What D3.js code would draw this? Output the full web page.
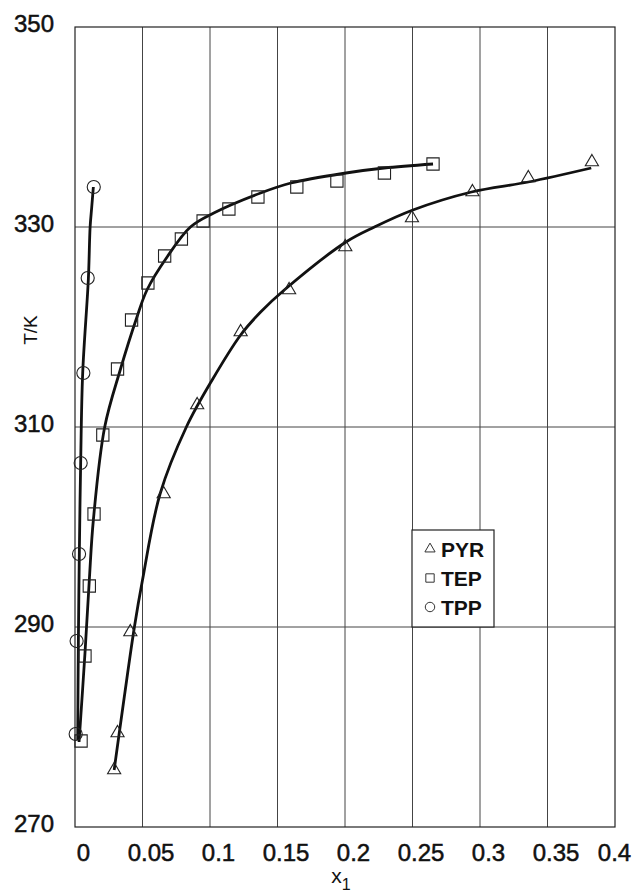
<!DOCTYPE html>
<html>
<head>
<meta charset="utf-8">
<script src="https://cdn.jsdelivr.net/npm/d3@7"></script>
<style>
  body { margin: 0; background: #fff; }
  text { font-family: "Liberation Sans", Arial, sans-serif; fill: #111; }
</style>
</head>
<body>
<div class="chart"></div>
<script>
// tick values
var xTicks = [0, 0.05, 0.1, 0.15, 0.2, 0.25, 0.3, 0.35, 0.4];
var yTicks = [270, 290, 310, 330, 350];

// measured points
var pyrX = [0.029, 0.0315, 0.041, 0.0657, 0.0905, 0.1227, 0.1586, 0.2002, 0.2496, 0.2944, 0.3358, 0.3829];
var pyrT = [275.7, 279.4, 289.5, 303.3, 312.2, 319.5, 323.7, 328.0, 330.9, 333.5, 334.9, 336.5];

var tepX = [0.0045, 0.0074, 0.0106, 0.0141, 0.0206, 0.0315, 0.0419, 0.054, 0.0664, 0.0788, 0.0949, 0.114, 0.1355, 0.1643, 0.194, 0.2292, 0.2652];
var tepT = [278.6, 287.1, 294.1, 301.3, 309.2, 315.8, 320.7, 324.4, 327.1, 328.8, 330.6, 331.8, 333.0, 334.0, 334.6, 335.4, 336.3];

var tppX = [0.0005, 0.0012, 0.003, 0.0042, 0.0062, 0.0094, 0.0139];
var tppT = [279.3, 288.6, 297.3, 306.4, 315.4, 324.9, 334.0];

// fitted curves
var pyrFitX = [0.029, 0.0365, 0.044, 0.05, 0.063, 0.0825, 0.1016, 0.1227, 0.1375, 0.155, 0.2007, 0.2218, 0.2503, 0.2937, 0.3358, 0.3824];
var pyrFitT = [275.7, 283, 290, 294.7, 303.3, 310, 314.7, 319.2, 321.5, 323.7, 328.5, 330.0, 331.7, 333.5, 334.5, 335.9];

var tepFitX = [0.003, 0.0074, 0.0106, 0.0136, 0.022, 0.0335, 0.0459, 0.0533, 0.0682, 0.0855, 0.1028, 0.1375, 0.16, 0.2007, 0.229, 0.2652];
var tepFitT = [278.5, 287.4, 294.7, 300.7, 310, 315.7, 321, 323.7, 327, 330, 331.4, 333.4, 334.4, 335.4, 335.9, 336.3];

var tppFitX = [0.002, 0.0025, 0.0032, 0.0042, 0.0057, 0.0099, 0.0112, 0.0124, 0.0136];
var tppFitT = [278.7, 288.6, 297.3, 306.4, 315.4, 324.8, 330, 332, 334];

var legendNames = ["PYR", "TEP", "TPP"];

var svgWidth = 635;
var svgHeight = 893;
var margin = { top: 27, right: 20, bottom: 66, left: 75 };
var width = svgWidth - margin.left - margin.right;
var height = svgHeight - margin.top - margin.bottom;

var svg = d3.select(".chart")
  .append("svg")
  .attr("width", svgWidth)
  .attr("height", svgHeight);

var chartGroup = svg.append("g")
  .attr("transform", `translate(${margin.left}, ${margin.top})`);

var x = d3.scaleLinear().domain([0, 0.4]).range([0, width]);
var y = d3.scaleLinear().domain([270, 350]).range([height, 0]);

// grid
chartGroup.append("g")
  .selectAll("line")
  .data(xTicks.slice(1, -1))
  .enter()
  .append("line")
  .attr("x1", d => x(d)).attr("x2", d => x(d))
  .attr("y1", 0).attr("y2", height)
  .attr("stroke", "#444").attr("stroke-width", 1);

chartGroup.append("g")
  .selectAll("line")
  .data(yTicks.slice(1, -1))
  .enter()
  .append("line")
  .attr("x1", 0).attr("x2", width)
  .attr("y1", d => y(d)).attr("y2", d => y(d))
  .attr("stroke", "#444").attr("stroke-width", 1);

chartGroup.append("rect")
  .attr("width", width).attr("height", height)
  .attr("fill", "none").attr("stroke", "#222").attr("stroke-width", 1.2);

// axes
var xAxis = chartGroup.append("g")
  .attr("transform", `translate(0, ${height})`)
  .call(d3.axisBottom(x).tickValues(xTicks).tickSize(0).tickPadding(17)
    .tickFormat(d => String(d)));
xAxis.select(".domain").remove();
xAxis.selectAll("text")
  .attr("font-size", "24px")
  .attr("dx", d => d === 0.4 ? -1 : 8)
  .attr("stroke", "#111")
  .attr("stroke-width", 0.5)
  .style("font-family", "'Liberation Sans', Arial, sans-serif");

var yAxis = chartGroup.append("g")
  .call(d3.axisLeft(y).tickValues(yTicks).tickSize(0).tickPadding(21));
yAxis.select(".domain").remove();
yAxis.selectAll("text")
  .attr("font-size", "24px")
  .attr("dy", "0.17em")
  .attr("stroke", "#111")
  .attr("stroke-width", 0.5)
  .style("font-family", "'Liberation Sans', Arial, sans-serif");

// axis titles
var xTitle = svg.append("text")
  .attr("x", margin.left + width / 2 - 4)
  .attr("y", 883)
  .attr("text-anchor", "middle")
  .attr("font-size", "21px");
xTitle.append("tspan").text("x");
xTitle.append("tspan").attr("font-size", "16px").attr("dy", 7).text("1");

svg.append("text")
  .attr("transform", "translate(37, 330) rotate(-90)")
  .attr("text-anchor", "middle")
  .attr("font-size", "19px")
  .text("T/K");

// fitted lines
var line = d3.line()
  .x(d => x(d[0]))
  .y(d => y(d[1]))
  .curve(d3.curveCatmullRom.alpha(0.5));

var fits = [
  d3.zip(pyrFitX, pyrFitT),
  d3.zip(tepFitX, tepFitT),
  d3.zip(tppFitX, tppFitT)
];

chartGroup.selectAll(".fit")
  .data(fits)
  .enter()
  .append("path")
  .classed("fit", true)
  .attr("d", line)
  .attr("fill", "none")
  .attr("stroke", "#111")
  .attr("stroke-width", 2.8);

// markers
var symTri = d3.symbol().type(d3.symbolTriangle).size(75);
var symSq = d3.symbol().type(d3.symbolSquare).size(150);
var symCirc = d3.symbol().type(d3.symbolCircle).size(135);

var series = [
  { pts: d3.zip(pyrX, pyrT), sym: symTri },
  { pts: d3.zip(tepX, tepT), sym: symSq },
  { pts: d3.zip(tppX, tppT), sym: symCirc }
];

series.forEach(function(s) {
  chartGroup.append("g")
    .selectAll("path")
    .data(s.pts)
    .enter()
    .append("path")
    .attr("d", s.sym())
    .attr("transform", d => `translate(${x(d[0])}, ${y(d[1])})`)
    .attr("fill", "none")
    .attr("stroke", "#222")
    .attr("stroke-width", 1.1);
});

// legend
var legend = svg.append("g").attr("transform", "translate(412, 530)");
legend.append("rect")
  .attr("width", 82).attr("height", 97)
  .attr("fill", "#fff").attr("stroke", "#222").attr("stroke-width", 1.2);

var legendSyms = [
  d3.symbol().type(d3.symbolTriangle).size(45),
  d3.symbol().type(d3.symbolSquare).size(70),
  d3.symbol().type(d3.symbolCircle).size(70)
];

legendNames.forEach(function(name, i) {
  var row = legend.append("g").attr("transform", `translate(0, ${19 + i * 29})`);
  row.append("path")
    .attr("d", legendSyms[i]())
    .attr("transform", "translate(18, 0)")
    .attr("fill", "none").attr("stroke", "#333").attr("stroke-width", 1);
  row.append("text")
    .attr("x", 29)
    .attr("dy", "0.36em")
    .attr("font-size", "21px")
    .attr("font-weight", "bold")
    .text(name);
});
</script>
</body>
</html>
